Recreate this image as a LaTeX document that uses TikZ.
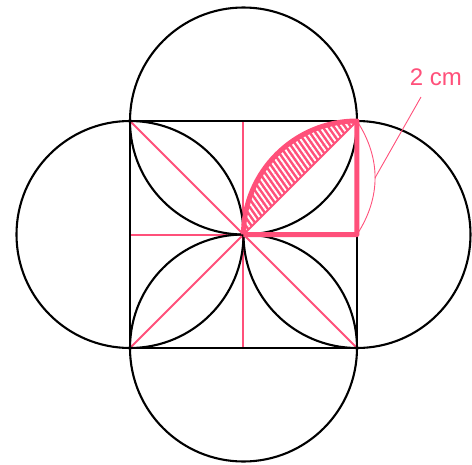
\documentclass[tikz,border=0pt]{standalone}
\usepackage{fontspec}
\setmainfont{Liberation Sans}
\usetikzlibrary{patterns.meta}
\definecolor{pk}{RGB}{255,80,122}
\begin{document}
\begin{tikzpicture}[x=1pt,y=1pt,
  blk/.style={black,line width=2.1pt},
  pkthin/.style={pk,line width=2pt},
  pkthick/.style={pk,line width=5pt},
  pkhair/.style={pk,line width=0.9pt}]
\useasboundingbox (-243.5,-229.5) rectangle (228.5,234.5);
\def\h{113.5}
\coordinate (TL) at (-\h,\h);
\coordinate (TR) at (\h,\h);
\coordinate (BR) at (\h,-\h);
\coordinate (BL) at (-\h,-\h);
\coordinate (O) at (0,0);
\coordinate (T) at (0,\h);
\coordinate (B) at (0,-\h);
\coordinate (L) at (-\h,0);
\coordinate (R) at (\h,0);
% hatched lens
\fill[pk] (O) arc[start angle=180,end angle=90,radius=\h pt] -- cycle;
\fill[pattern={Lines[angle=-55,distance=4.6pt,line width=1.9pt]},pattern color=white]
  (O) arc[start angle=180,end angle=90,radius=\h pt] -- cycle;
% pink thin lines
\draw[pkthin] (TL) -- (BR);
\draw[pkthin] (BL) -- (TR);
\draw[pkthin] (T) -- (B);
\draw[pkthin] (L) -- (R);
% black
\draw[blk] (TL) rectangle (BR);
\foreach \c in {T,B,L,R} \draw[blk] (\c) circle[radius=\h pt];
% thick pink
\draw[pkthick,line join=round] (O) arc[start angle=180,end angle=90,radius=\h pt] -- (R) -- (O);
% dimension arc and label
\draw[pkhair] (TR) to[bend left=33] coordinate[pos=0.5] (M) (R);
\node[pk,font=\fontsize{24}{24}\selectfont] (lab) at (192.5,157.5) {2 cm};
\coordinate (lead) at (177.5,137.5);
\draw[pkhair] (M) -- (lead);
\end{tikzpicture}
\end{document}
